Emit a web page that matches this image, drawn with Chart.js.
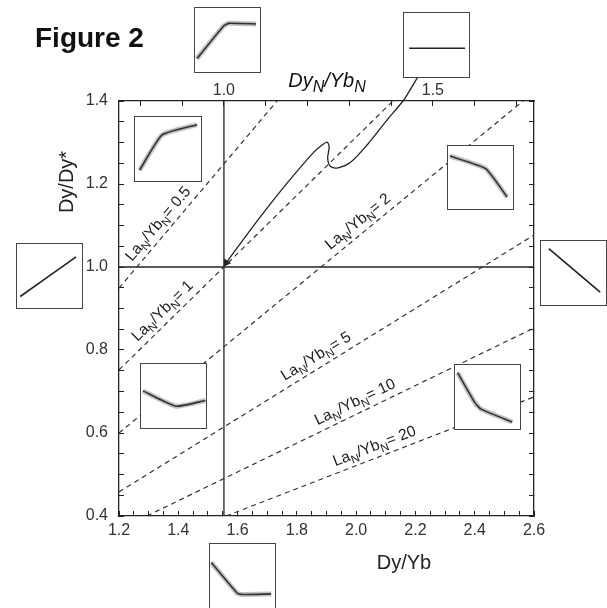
<!DOCTYPE html>
<html>
<head>
<meta charset="utf-8">
<title>Figure 2</title>
<script src="https://cdn.jsdelivr.net/npm/chart.js"></script>
<style>
  html, body { margin: 0; padding: 0; background: #fff; }
  #wrap { position: relative; width: 607px; height: 608px; overflow: hidden; }
  #main { position: absolute; left: 0; top: 0; }
  .inset { position: absolute; box-sizing: border-box; border: 1px solid #444; background: #fff; }
  .inset canvas { display: block; }
</style>
</head>
<body>
<div id="wrap">
  <canvas id="main" width="607" height="608"></canvas>
</div>
<script>
// axis tick labels
const dyYbTicks = [1.2, 1.4, 1.6, 1.8, 2.0, 2.2, 2.4, 2.6];
const dyDyTicks = [0.4, 0.6, 0.8, 1.0, 1.2, 1.4];
const dyNYbNTicks = [1.0, 1.5];
const dyNYbNRange = [0.749, 1.742];

// La_N/Yb_N reference lines (end points)
const laYbLabels = ['0.5', '1', '2', '5', '10', '20'];
const laYbStartX = [1.2, 1.2, 1.2, 1.2, 1.294, 1.561];
const laYbStartY = [0.949, 0.752, 0.600, 0.458, 0.4, 0.4];
const laYbEndX = [1.733, 2.124, 2.563, 2.6, 2.6, 2.6];
const laYbEndY = [1.4, 1.4, 1.4, 1.077, 0.853, 0.687];
const laYbLabelX = [1.262, 1.279, 1.928, 1.772, 1.880, 1.938];

// chondrite reference
const chondriteDyYb = 1.554;
const chondriteDyDy = 1.0;

// evolution path, ends at the arrow
const pathDyYb = [1.562, 1.578, 1.676, 1.767, 1.855, 1.885, 1.902, 1.909, 1.904, 1.913, 1.939, 1.979, 2.037, 2.104, 2.158, 2.178, 2.208];
const pathDyDy = [1.010, 1.026, 1.120, 1.202, 1.275, 1.294, 1.301, 1.290, 1.262, 1.243, 1.239, 1.251, 1.294, 1.354, 1.400, 1.422, 1.458];

// small REE pattern sketches, [x, y] in 0..1 of each box
const patTop = [[0.03, 0.21], [0.44, 0.72], [0.52, 0.76], [0.94, 0.75]];
const patTopRight = [[0.08, 0.45], [0.94, 0.45]];
const patUpperLeft = [[0.07, 0.17], [0.41, 0.72], [0.94, 0.88]];
const patUpperRight = [[0.03, 0.84], [0.58, 0.64], [0.91, 0.19]];
const patLeft = [[0.05, 0.18], [0.91, 0.80]];
const patRight = [[0.12, 0.88], [0.91, 0.20]];
const patLowerLeft = [[0.03, 0.58], [0.54, 0.34], [0.99, 0.43]];
const patLowerRight = [[0.04, 0.88], [0.30, 0.42], [0.40, 0.31], [0.88, 0.11]];
const patBottom = [[0.02, 0.71], [0.42, 0.23], [0.50, 0.21], [0.94, 0.22]];

const FONT = '"Liberation Sans", Arial, Helvetica, sans-serif';
const INK = '#222';

function near(list, v) {
  return list.some(t => Math.abs(t - v) < 1e-6);
}

// draws text made of normal / subscript pieces, returns width
function drawParts(ctx, parts, x, y, size, subSize, drop, style) {
  let cx = x;
  parts.forEach(([txt, sub]) => {
    ctx.font = style + (sub ? subSize : size) + 'px ' + FONT;
    ctx.fillText(txt, cx, y + (sub ? drop : 0));
    cx += ctx.measureText(txt).width;
  });
  return cx - x;
}

function partsWidth(ctx, parts, size, subSize, style) {
  let w = 0;
  parts.forEach(([txt, sub]) => {
    ctx.font = style + (sub ? subSize : size) + 'px ' + FONT;
    w += ctx.measureText(txt).width;
  });
  return w;
}

const ratioLabels = {
  id: 'ratioLabels',
  afterDatasetsDraw(chart) {
    const { ctx, scales: { x, y } } = chart;
    ctx.save();
    ctx.fillStyle = INK;
    ctx.textBaseline = 'alphabetic';
    ctx.textAlign = 'left';
    laYbLabels.forEach((r, i) => {
      const x0 = x.getPixelForValue(laYbStartX[i]), y0 = y.getPixelForValue(laYbStartY[i]);
      const x1 = x.getPixelForValue(laYbEndX[i]), y1 = y.getPixelForValue(laYbEndY[i]);
      const t = (laYbLabelX[i] - laYbStartX[i]) / (laYbEndX[i] - laYbStartX[i]);
      ctx.save();
      ctx.translate(x0 + t * (x1 - x0), y0 + t * (y1 - y0));
      ctx.rotate(Math.atan2(y1 - y0, x1 - x0));
      drawParts(ctx, [['La', false], ['N', true], ['/Yb', false], ['N', true], ['= ' + r, false]], 0, -7, 15.5, 11.5, 4, '');
      ctx.restore();
    });
    ctx.restore();
  }
};

const figureText = {
  id: 'figureText',
  afterDraw(chart) {
    const { ctx } = chart;
    ctx.save();
    ctx.fillStyle = '#111';
    ctx.textBaseline = 'alphabetic';
    ctx.textAlign = 'left';
    ctx.font = 'bold 28px ' + FONT;
    ctx.fillText('Figure 2', 35, 47);

    // top axis title
    const top = [['Dy', false], ['N', true], ['/Yb', false], ['N', true]];
    const tw = partsWidth(ctx, top, 20, 16, 'italic ');
    drawParts(ctx, top, 327 - tw / 2, 87, 20, 16, 5, 'italic ');

    ctx.fillStyle = INK;
    ctx.font = '20px ' + FONT;
    ctx.textAlign = 'center';
    ctx.textBaseline = 'middle';
    ctx.fillText('Dy/Yb', 404, 563);
    ctx.translate(67, 182);
    ctx.rotate(-Math.PI / 2);
    ctx.fillText('Dy/Dy*', 0, 0);
    ctx.restore();
  }
};

const tickFont = { family: FONT, size: 16 };
const gridOpts = { drawOnChartArea: false, drawTicks: true, tickLength: -5, color: INK, lineWidth: 1 };
const borderOpts = { display: true, color: INK, width: 1.3 };

const refLines = laYbLabels.map((r, i) => ({
  label: 'LaN/YbN = ' + r,
  data: [{ x: laYbStartX[i], y: laYbStartY[i] }, { x: laYbEndX[i], y: laYbEndY[i] }],
  showLine: true,
  borderColor: '#333',
  borderWidth: 1.2,
  borderDash: [5, 4],
  pointRadius: 0
}));

const pathPts = pathDyYb.map((v, i) => ({ x: v, y: pathDyDy[i] }));

new Chart(document.getElementById('main'), {
  type: 'scatter',
  data: {
    datasets: [
      ...refLines,
      {
        label: 'chondrite Dy/Yb',
        data: [{ x: chondriteDyYb, y: 0.4 }, { x: chondriteDyYb, y: 1.4 }],
        showLine: true, borderColor: INK, borderWidth: 1.3, pointRadius: 0
      },
      {
        label: 'chondrite Dy/Dy*',
        data: [{ x: 1.2, y: chondriteDyDy }, { x: 2.6, y: chondriteDyDy }],
        showLine: true, borderColor: INK, borderWidth: 1.3, pointRadius: 0
      },
      {
        label: 'path',
        data: pathPts,
        showLine: true,
        borderColor: INK,
        borderWidth: 1.3,
        tension: 0.3,
        clip: false,
        pointStyle: 'triangle',
        rotation: 216,
        pointRadius: pathPts.map((p, i) => i === 0 ? 3.5 : 0),
        pointBackgroundColor: INK,
        pointBorderColor: INK
      }
    ]
  },
  options: {
    responsive: false,
    animation: false,
    devicePixelRatio: 1,
    events: [],
    layout: { padding: { left: 0, right: 73, top: 0, bottom: 0 } },
    plugins: { legend: { display: false }, tooltip: { enabled: false } },
    scales: {
      x: {
        type: 'linear', position: 'bottom', min: 1.2, max: 2.6,
        afterFit: s => { s.height = 92; },
        border: borderOpts, grid: gridOpts,
        ticks: {
          stepSize: 0.05, autoSkip: false, maxRotation: 0, padding: 10, color: '#333', font: tickFont,
          callback: v => near(dyYbTicks, v) ? v.toFixed(1) : ''
        }
      },
      x2: {
        type: 'linear', axis: 'x', position: 'top', min: dyNYbNRange[0], max: dyNYbNRange[1],
        afterFit: s => { s.height = 101; },
        border: borderOpts, grid: gridOpts,
        ticks: {
          stepSize: 0.1, includeBounds: false, autoSkip: false, maxRotation: 0, padding: 6, color: '#333', font: tickFont,
          callback: v => near(dyNYbNTicks, v) ? v.toFixed(1) : ''
        }
      },
      y: {
        type: 'linear', position: 'left', min: 0.4, max: 1.4,
        afterFit: s => { s.width = 119; },
        border: borderOpts, grid: gridOpts,
        ticks: {
          stepSize: 0.05, autoSkip: false, padding: 16, color: '#333', font: tickFont,
          callback: v => near(dyDyTicks, v) ? v.toFixed(1) : ''
        }
      },
      y2: {
        type: 'linear', axis: 'y', position: 'right', min: 0.4, max: 1.4,
        afterFit: s => { s.width = 0; },
        border: borderOpts, grid: gridOpts,
        ticks: { stepSize: 0.05, autoSkip: false, callback: () => '' }
      }
    }
  },
  plugins: [ratioLabels, figureText]
});

// inset boxes with the pattern sketches
const insets = [
  { left: 194, top: 7, w: 67, h: 66, pat: patTop, halo: true },
  { left: 403, top: 12, w: 67, h: 66, pat: patTopRight, halo: false },
  { left: 134, top: 116, w: 68, h: 66, pat: patUpperLeft, halo: true },
  { left: 447, top: 145, w: 67, h: 65, pat: patUpperRight, halo: true },
  { left: 16, top: 243, w: 67, h: 66, pat: patLeft, halo: false },
  { left: 540, top: 240, w: 67, h: 66, pat: patRight, halo: false },
  { left: 140, top: 363, w: 67, h: 66, pat: patLowerLeft, halo: true },
  { left: 454, top: 364, w: 67, h: 66, pat: patLowerRight, halo: true },
  { left: 209, top: 543, w: 67, h: 66, pat: patBottom, halo: true }
];

const wrap = document.getElementById('wrap');
insets.forEach(b => {
  const div = document.createElement('div');
  div.className = 'inset';
  div.style.left = b.left + 'px';
  div.style.top = b.top + 'px';
  div.style.width = b.w + 'px';
  div.style.height = b.h + 'px';
  const c = document.createElement('canvas');
  c.width = b.w - 2;
  c.height = b.h - 2;
  div.appendChild(c);
  wrap.appendChild(div);

  const pts = b.pat.map(([x, y]) => ({ x, y }));
  const sets = [];
  if (b.halo) {
    sets.push({ data: pts, showLine: true, borderColor: 'rgba(80,80,80,0.35)', borderWidth: 5, pointRadius: 0, tension: 0.15 });
  }
  sets.push({ data: pts, showLine: true, borderColor: INK, borderWidth: 1.6, pointRadius: 0, tension: 0.15 });

  new Chart(c, {
    type: 'scatter',
    data: { datasets: sets },
    options: {
      responsive: false,
      animation: false,
      devicePixelRatio: 1,
      events: [],
      layout: { padding: 0 },
      plugins: { legend: { display: false }, tooltip: { enabled: false } },
      scales: {
        x: { display: false, min: 0, max: 1 },
        y: { display: false, min: 0, max: 1 }
      }
    }
  });
});
</script>
</body>
</html>
